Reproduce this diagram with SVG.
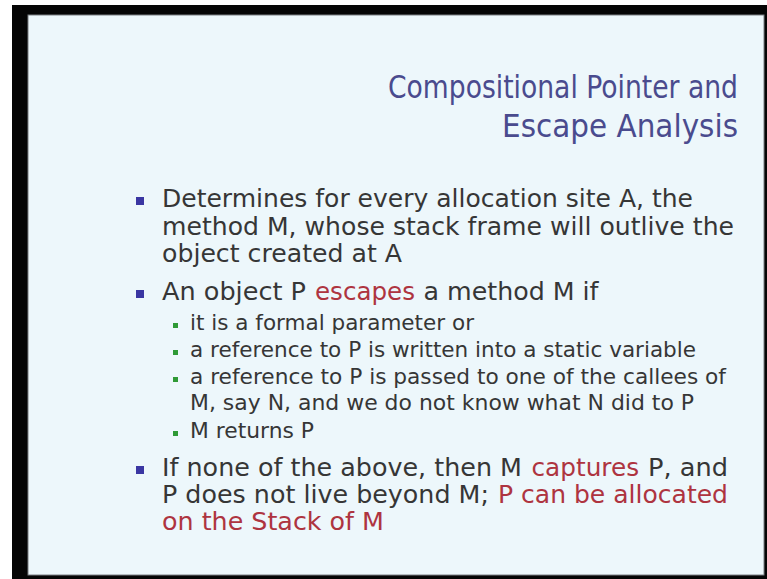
<svg xmlns="http://www.w3.org/2000/svg" width="767" height="579" viewBox="0 0 767 579">
  <style>
    .title { font-family: "DejaVu Sans Condensed", "DejaVu Sans", Verdana, sans-serif; font-size: 31.5px; fill: #4a4b8e; }
    .main { font-family: "DejaVu Sans", Verdana, sans-serif; font-size: 25px; fill: #363636; }
    .sub { font-family: "DejaVu Sans", Verdana, sans-serif; font-size: 21px; fill: #363636; }
    .hl { fill: #ae3440; }
    .b1 { fill: #3a36a2; }
    .b2 { fill: #2f9a36; }
  </style>

  <!-- screen surround and slide surface -->
  <rect x="0" y="0" width="767" height="579" fill="#ffffff"/>
  <rect x="12" y="5" width="755" height="574" fill="#050505"/>
  <rect x="28" y="15" width="736" height="560" fill="#edf7fb" stroke="#7a7f82" stroke-width="1"/>

  <!-- title -->
  <g id="title">
    <text class="title" x="388" y="98" textLength="350" lengthAdjust="spacingAndGlyphs">Compositional Pointer and</text>
    <text class="title" x="502" y="137" textLength="236" lengthAdjust="spacingAndGlyphs">Escape Analysis</text>
  </g>

  <!-- first bullet -->
  <g id="bullet-determines">
    <rect class="b1" x="136" y="197" width="8" height="8"/>
    <text class="main" x="162" y="207" textLength="531" lengthAdjust="spacingAndGlyphs">Determines for every allocation site A, the</text>
    <text class="main" x="162" y="235" textLength="572" lengthAdjust="spacingAndGlyphs">method M, whose stack frame will outlive the</text>
    <text class="main" x="162" y="262" textLength="240" lengthAdjust="spacingAndGlyphs">object created at A</text>
  </g>

  <!-- second bullet with its sub-items -->
  <g id="bullet-escapes">
    <rect class="b1" x="136" y="290" width="8" height="8"/>
    <text class="main" x="162" y="300" textLength="144" lengthAdjust="spacingAndGlyphs">An object P</text>
    <text class="main hl" x="315" y="300" textLength="100" lengthAdjust="spacingAndGlyphs">escapes</text>
    <text class="main" x="423.5" y="300" textLength="175" lengthAdjust="spacingAndGlyphs">a method M if</text>

    <rect class="b2" x="173" y="323" width="5" height="5"/>
    <text class="sub" x="190" y="330" textLength="284" lengthAdjust="spacingAndGlyphs">it is a formal parameter or</text>

    <rect class="b2" x="173" y="350" width="5" height="5"/>
    <text class="sub" x="190" y="357" textLength="506" lengthAdjust="spacingAndGlyphs">a reference to P is written into a static variable</text>

    <rect class="b2" x="173" y="377" width="5" height="5"/>
    <text class="sub" x="190" y="384" textLength="536" lengthAdjust="spacingAndGlyphs">a reference to P is passed to one of the callees of</text>
    <text class="sub" x="190" y="410" textLength="504" lengthAdjust="spacingAndGlyphs">M, say N, and we do not know what N did to P</text>

    <rect class="b2" x="173" y="431" width="5" height="5"/>
    <text class="sub" x="190" y="438" textLength="124" lengthAdjust="spacingAndGlyphs">M returns P</text>
  </g>

  <!-- third bullet -->
  <g id="bullet-captures">
    <rect class="b1" x="136" y="466" width="8" height="8"/>
    <text class="main" x="162" y="476" textLength="360" lengthAdjust="spacingAndGlyphs">If none of the above, then M</text>
    <text class="main hl" x="531.5" y="476" textLength="107.6" lengthAdjust="spacingAndGlyphs">captures</text>
    <text class="main" x="648" y="476" textLength="80" lengthAdjust="spacingAndGlyphs">P, and</text>
    <text class="main" x="162" y="503" textLength="327" lengthAdjust="spacingAndGlyphs">P does not live beyond M;</text>
    <text class="main hl" x="498" y="503" textLength="230" lengthAdjust="spacingAndGlyphs">P can be allocated</text>
    <text class="main hl" x="162" y="530" textLength="222" lengthAdjust="spacingAndGlyphs">on the Stack of M</text>
  </g>
</svg>
